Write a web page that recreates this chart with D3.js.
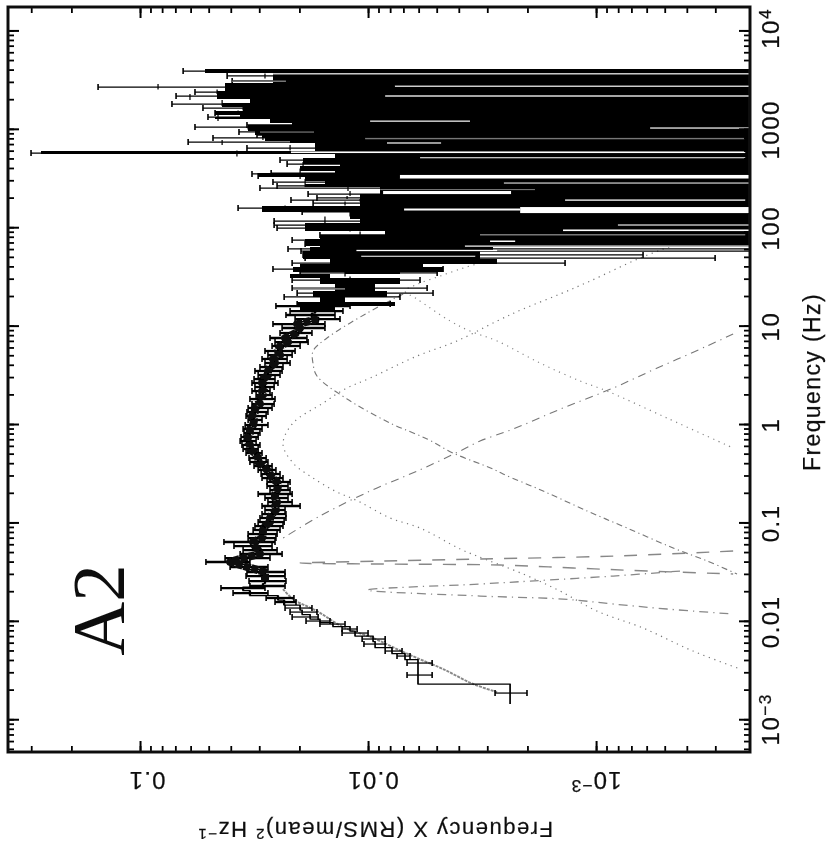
<!DOCTYPE html>
<html><head><meta charset="utf-8">
<script src="https://cdnjs.cloudflare.com/ajax/libs/d3/7.8.5/d3.min.js"></script>
<style>html,body{margin:0;padding:0;background:#fff}svg{display:block}text{fill:#111;stroke:#111;stroke-width:.25;font-family:"Liberation Sans",Arial,sans-serif}</style>
</head><body><div id="c"></div>
<script>
// All values are log10(frequency / Hz) and log10(power).
const logFreq=[3.587,3.537,3.486,3.425,3.374,3.333,3.252,3.211,3.161,3.120,
3.039,3.018,2.968,2.937,2.907,2.866,2.805,2.754,2.683,2.642,
2.551,2.541,2.520,2.459,2.419,2.398,2.337,2.297,2.276,2.246,
2.195,2.155,2.063,2.022,1.992,1.921,1.870,1.829,1.779,1.758,
1.718,1.687,1.636,1.575,1.535,1.463,1.382,1.331,1.291,1.220,
1.199,1.148,1.108,1.067,1.016,0.976,0.925,0.874,0.833,0.793,
0.742,0.701,0.661,0.620,0.579,0.539,0.498,0.457,0.417,0.376,
0.335,0.295,0.254,0.203,0.163,0.122,0.081,0.041,-0.010,-0.051,
-0.091,-0.132,-0.173,-0.213,-0.254,-0.295,-0.346,-0.386,-0.427,-0.467,
-0.508,-0.549,-0.589,-0.630,-0.671,-0.711,-0.752,-0.793,-0.833,-0.874,
-0.915,-0.955,-0.996,-1.037,-1.077,-1.118,-1.159,-1.199,-1.240,-1.281,
-1.321,-1.362,-1.402,-1.453,-1.504,-1.545,-1.596,-1.646,-1.667,-1.718,
-1.768,-1.809,-1.870,-1.911,-1.961,-2.002,-2.033,-2.083,-2.124,-2.185,
-2.236,-2.307,-2.358,-2.429,-2.551,-2.734];
const powerUpper=[-1.189,-1.382,-1.404,-0.816,-1.241,-1.158,-1.140,-1.276,-1.329,-1.298,
-1.469,-1.241,-1.434,-1.513,-1.320,-1.211,-1.469,-0.522,-1.614,-1.645,
-1.575,-1.491,-1.518,-1.583,-1.601,-1.526,-1.737,-1.776,-1.662,-1.759,
-1.430,-1.711,-1.588,-1.588,-1.601,-1.789,-1.667,-1.724,-1.649,-1.706,
-1.715,-1.724,-1.667,-1.583,-1.702,-1.667,-1.667,-1.689,-1.632,-1.689,
-1.596,-1.658,-1.640,-1.680,-1.583,-1.623,-1.614,-1.570,-1.592,-1.579,
-1.548,-1.561,-1.535,-1.548,-1.526,-1.504,-1.518,-1.500,-1.491,-1.504,
-1.491,-1.509,-1.482,-1.491,-1.474,-1.469,-1.465,-1.474,-1.461,-1.452,
-1.456,-1.443,-1.439,-1.447,-1.452,-1.465,-1.478,-1.482,-1.500,-1.518,
-1.531,-1.535,-1.557,-1.557,-1.570,-1.518,-1.548,-1.561,-1.535,-1.548,
-1.535,-1.526,-1.518,-1.504,-1.496,-1.474,-1.474,-1.368,-1.412,-1.452,
-1.439,-1.373,-1.289,-1.395,-1.469,-1.465,-1.478,-1.482,-1.355,-1.408,
-1.553,-1.592,-1.636,-1.658,-1.667,-1.728,-1.789,-1.886,-1.886,-1.974,
-1.982,-2.075,-2.127,-2.171,-2.171,-2.557];
const powerValue=[-1.746,-1.548,-1.671,-1.079,-1.338,-1.219,-1.360,-1.452,-1.430,-1.342,
-1.680,-1.474,-1.509,-1.570,-1.539,-1.360,-1.658,-1.425,-1.864,-1.715,
-1.702,-1.711,-1.702,-1.724,-1.724,-1.912,-1.921,-1.908,-1.965,-1.899,
-1.636,-1.921,-1.811,-1.921,-1.921,-1.965,-1.811,-1.921,-1.877,-1.921,
-1.877,-1.921,-1.899,-1.789,-1.899,-1.921,-1.899,-1.899,-1.833,-1.877,
-1.789,-1.768,-1.754,-1.781,-1.689,-1.702,-1.684,-1.636,-1.649,-1.614,
-1.605,-1.614,-1.583,-1.592,-1.570,-1.561,-1.561,-1.539,-1.535,-1.548,
-1.535,-1.539,-1.518,-1.526,-1.504,-1.504,-1.491,-1.500,-1.496,-1.482,
-1.482,-1.474,-1.469,-1.482,-1.482,-1.504,-1.518,-1.518,-1.539,-1.557,
-1.570,-1.579,-1.601,-1.605,-1.601,-1.592,-1.592,-1.601,-1.592,-1.596,
-1.579,-1.570,-1.570,-1.548,-1.539,-1.539,-1.535,-1.496,-1.504,-1.518,
-1.526,-1.452,-1.395,-1.469,-1.548,-1.548,-1.548,-1.539,-1.452,-1.482,
-1.605,-1.632,-1.702,-1.711,-1.746,-1.789,-1.846,-1.921,-1.943,-2.022,
-2.031,-2.105,-2.162,-2.219,-2.219,-2.623];
const powerLower=[-4,-4,-4,-4,-4,-4,-4,-4,-4,-4,
-4,-4,-4,-4,-4,-4,-4,-4,-4,-4,
-4,-4,-4,-4,-4,-4,-4,-4,-4,-4,
-4,-4,-4,-4,-4,-4,-4,-4,-4,-4,
-3.206,-3.522,-2.864,-2.329,-2.303,-2.228,-2.259,-2.285,-2.140,-2.097,
-1.921,-1.890,-1.855,-1.877,-1.811,-1.811,-1.754,-1.732,-1.737,-1.702,
-1.680,-1.667,-1.645,-1.658,-1.627,-1.623,-1.614,-1.592,-1.605,-1.588,
-1.570,-1.579,-1.592,-1.588,-1.579,-1.561,-1.553,-1.535,-1.561,-1.535,
-1.526,-1.518,-1.509,-1.526,-1.518,-1.535,-1.553,-1.561,-1.579,-1.596,
-1.614,-1.627,-1.658,-1.649,-1.658,-1.667,-1.649,-1.667,-1.702,-1.636,
-1.640,-1.640,-1.632,-1.627,-1.614,-1.601,-1.596,-1.592,-1.579,-1.601,
-1.623,-1.570,-1.482,-1.561,-1.636,-1.636,-1.640,-1.636,-1.548,-1.561,
-1.675,-1.684,-1.754,-1.776,-1.781,-1.833,-1.899,-1.952,-2.000,-2.075,
-2.075,-2.149,-2.184,-2.281,-2.281,-2.697];

// Where the noise-dominated error bars merge into a solid band.
const bandFreq=[3.608,3.567,3.466,3.384,3.303,3.262,3.222,3.181,3.140,3.120,3.100,3.059,3.039,2.978,2.937,2.907,2.876,2.856,2.775,2.744,2.703,2.642,2.622,2.571,2.551,2.510,2.470,2.439,2.409,2.337,2.216,2.155,2.083,2.043,1.961,1.921,1.880,1.809,1.799,1.758,1.677,1.626,1.596,1.545,1.525,1.484,1.423,1.352,1.291,1.240,1.199,1.148];
const bandUpper=[-1.285,-1.583,-1.373,-1.338,-1.482,-1.360,-1.452,-1.329,-1.439,-1.329,-1.570,-1.667,-1.474,-1.504,-1.535,-1.548,-1.658,-1.768,-0.566,-1.855,-1.715,-1.877,-1.702,-1.855,-1.518,-1.724,-1.811,-1.724,-2.053,-1.965,-1.535,-1.921,-1.965,-1.724,-2.075,-1.789,-1.724,-1.789,-1.746,-1.715,-1.833,-1.702,-1.671,-1.899,-1.658,-1.789,-1.855,-1.759,-1.789,-1.689,-1.702,-1.702];
const bandLower=[-4,-4,-4,-4,-4,-4,-4,-4,-4,-4,-4,-4,-4,-4,-4,-4,-4,-4,-4,-4,-4,-4,-4,-4,-4,-4,-4,-4,-4,-4,-4,-4,-4,-4,-4,-4,-4,-4,-2.548,-2.491,-2.566,-2.241,-2.329,-2.140,-1.833,-2.140,-2.031,-2.083,-1.899,-2.119,-1.855,-1.855];

// Thin stripes of paper and grey seen inside the band: [freq top, freq bottom, power left, power right]
const whiteF0=[3.565,3.439,3.340,3.084,3.014,2.862,2.770,2.711,2.531,2.454,2.368,2.282,2.205,2.190,2.028,1.977,1.865,1.814,1.770,1.710];
const whiteF1=[3.553,3.427,3.327,3.072,3.002,2.850,2.754,2.701,2.495,2.444,2.337,2.269,2.144,2.170,2.017,1.961,1.850,1.802,1.757,1.700];
const whiteP0=[-1.583,-2.118,-2.075,-2.009,-3.237,-2.083,-1.662,-2.228,-2.140,-2.596,-2.066,-2.864,-2.667,-2.158,-3.096,-2.855,-2.535,-2.425,-1.949,-1.970];
const whiteP1=[-4,-4,-4,-2.447,-4,-2.320,-3.654,-3.654,-4,-4,-2.627,-3.654,-4,-2.667,-4,-4,-2.645,-4,-2.566,-2.470];
const greyF0=[3.491,2.973,2.907,2.388,1.931,1.382];
const greyF1=[3.476,2.961,2.894,2.378,1.916,1.365];
const greyP0=[-1.404,-1.526,-1.987,-2.053,-2.491,-1.671];
const greyP1=[-1.640,-1.763,-3.654,-2.732,-3.654,-1.899];

// Model components
const lorA_F=[1.840,1.687,1.453,1.321,1.169,1.047,0.844,0.691,0.467,0.356,0.213,0.010,-0.203,-0.396,-0.549,-0.681,-0.783,-0.955,-1.057,-1.270,-1.342,-1.524,-1.697,-1.901,-2.073,-2.307,-2.490];
const lorA_P=[-3.368,-3.193,-2.974,-2.842,-2.680,-2.566,-2.390,-2.215,-2.009,-1.899,-1.803,-1.671,-1.627,-1.671,-1.759,-1.855,-1.956,-2.097,-2.228,-2.404,-2.478,-2.680,-2.842,-3.004,-3.206,-3.425,-3.632];
const lorB_F=[1.321,1.128,0.874,0.742,0.610,0.488,0.254,0.010,-0.152,-0.295,-0.457,-0.508,-0.681,-0.884,-1.057,-1.260,-1.392,-1.524];
const lorB_P=[-2.154,-1.996,-1.820,-1.759,-1.759,-1.776,-1.908,-2.097,-2.259,-2.373,-2.548,-2.592,-2.768,-2.961,-3.136,-3.338,-3.487,-3.618];
const lorC_F=[1.636,1.585,1.504,1.423,1.352,1.270,1.047,0.945,0.844,0.620,0.437,0.335,0.061,-0.244];
const lorC_P=[-2.491,-2.417,-2.316,-2.219,-2.162,-2.215,-2.360,-2.447,-2.566,-2.754,-2.930,-3.048,-3.311,-3.601];
const lorD_F=[0.915,0.793,0.569,0.366,0.163,-0.051,-0.173,-0.274,-0.478,-0.681,-0.935,-1.159];
const lorD_P=[-3.601,-3.487,-3.268,-3.075,-2.855,-2.636,-2.491,-2.404,-2.215,-2.009,-1.789,-1.627];
const qpoE_F=[-1.291,-1.342,-1.372,-1.392,-1.413,-1.423,-1.433,-1.463,-1.494,-1.524];
const qpoE_P=[-3.601,-3.075,-2.491,-2.066,-1.702,-2.066,-2.579,-2.899,-3.224,-3.601];
const qpoF_F=[-1.494,-1.545,-1.596,-1.626,-1.687,-1.748,-1.779,-1.829,-1.880,-1.931];
const qpoF_P=[-3.368,-3.075,-2.711,-2.491,-1.996,-2.491,-2.855,-3.075,-3.311,-3.601];
const total_F=[-2.724,-2.642,-2.490,-2.378,-2.287,-2.175,-2.063,-1.901,-1.779,-1.677];
const total_P=[-2.566,-2.461,-2.329,-2.215,-2.127,-2.022,-1.890,-1.776,-1.671,-1.627];

const freqMajor=[1e4,1e3,100,10,1,0.1,0.01,0.001];
const freqLabels=["10|4","1000","100","10","1","0.1","0.01","10|−3"];
const powerMajor=[0.1,0.01,0.001];
const powerLabels=["0.1","0.01","10|−3"];

const W=832,H=854,L=8,R=750,T=7,B=752;
const x=d3.scaleLog().domain([Math.pow(10,-0.421),Math.pow(10,-3.675)]).range([L,R]);
const y=d3.scaleLog().domain([Math.pow(10,4.238),Math.pow(10,-3.333)]).range([T,B]);
const px=v=>x(Math.pow(10,v)), py=v=>y(Math.pow(10,v));

const svg=d3.select("#c").append("svg").attr("width",W).attr("height",H);
const defs=svg.append("defs");
defs.append("clipPath").attr("id","clip").append("rect").attr("x",L).attr("y",T).attr("width",R-L).attr("height",B-T);
defs.append("filter").attr("id","soft").attr("x","-2%").attr("y","-2%").attr("width","104%").attr("height","104%")
  .append("feGaussianBlur").attr("stdDeviation",0.42);
const root=svg.append("g").attr("filter","url(#soft)");
const plot=root.append("g").attr("clip-path","url(#clip)");

// model curves
const line=d3.line().x(d=>px(d[1])).y(d=>py(d[0])).curve(d3.curveCatmullRom.alpha(0.5));
const curves=[
 [lorA_F,lorA_P,"1.2 4.6","#777",1.2],
 [lorB_F,lorB_P,"6 3.5 1.2 3.5","#777",1.1],
 [lorC_F,lorC_P,"1.2 4.6","#888",1.2],
 [lorD_F,lorD_P,"8 5 1.2 5","#777",1.1],
 [qpoE_F,qpoE_P,"13 11","#888",1.4],
 [qpoF_F,qpoF_P,"9 5 1.2 5","#888",1.3],
 [total_F,total_P,"3 1","#888",1.9]
];
plot.selectAll("path.model").data(curves).join("path").attr("class","model")
  .attr("d",c=>line(c[0].map((f,i)=>[f,c[1][i]])))
  .attr("fill","none").attr("stroke",c=>c[3]).attr("stroke-width",c=>c[4]).attr("stroke-dasharray",c=>c[2]);

// points
const points=logFreq.map((f,i)=>({f,u:powerUpper[i],v:powerValue[i],l:powerLower[i],
  top:i?(logFreq[i-1]+f)/2:f+0.02,
  bot:i<logFreq.length-1?(f+logFreq[i+1])/2:f-0.11}));
const inClump=d=>d.f<1.25&&d.f>-1.85;
const bars=plot.append("g").attr("stroke","#000").attr("fill","none");
const sw=d=>inClump(d)?2.3:1.25;
bars.selectAll("line.h").data(points).join("line").attr("stroke-width",sw).attr("x1",d=>px(d.u)).attr("x2",d=>px(d.l)).attr("y1",d=>py(d.f)).attr("y2",d=>py(d.f));
bars.selectAll("line.v").data(points).join("line").attr("stroke-width",sw).attr("x1",d=>px(d.v)).attr("x2",d=>px(d.v)).attr("y1",d=>py(d.top)).attr("y2",d=>py(d.bot));
bars.selectAll("line.cu").data(points).join("line").attr("stroke-width",1.6).attr("x1",d=>px(d.u)).attr("x2",d=>px(d.u)).attr("y1",d=>py(d.f)-3).attr("y2",d=>py(d.f)+3);
bars.selectAll("line.cl").data(points.filter(d=>d.l>-3.7)).join("line").attr("stroke-width",1.6).attr("x1",d=>px(d.l)).attr("x2",d=>px(d.l)).attr("y1",d=>py(d.f)-3).attr("y2",d=>py(d.f)+3);
// histogram step through the well-measured bins
const stepPts=[];points.filter(d=>d.f<1.25).forEach(d=>{stepPts.push([d.top,d.v]);stepPts.push([d.bot,d.v]);});
bars.append("path").attr("stroke-width",1.25).attr("d",d3.line().x(d=>px(d[1])).y(d=>py(d[0]))(stepPts));
// the overlapping bins of the dense stretch print as a dark, speckled core
const corePts=points.filter(inClump).map(d=>[d.f,d.v]);
bars.append("path").attr("stroke-width",8).attr("stroke-linejoin","round").attr("stroke-dasharray","7 1").attr("stroke","#0a0a0a")
  .attr("d",d3.line().x(d=>px(d[1])).y(d=>py(d[0]))(corePts.filter(d=>d[0]<1.1&&d[0]>-1.6)));

// merged band of bars
plot.append("g").selectAll("rect").data(bandFreq.slice(0,-1)).join("rect")
  .attr("shape-rendering","crispEdges").attr("fill","#050505")
  .attr("x",(d,i)=>px(bandUpper[i])).attr("y",d=>py(d))
  .attr("width",(d,i)=>Math.max(0,px(bandLower[i])-px(bandUpper[i])))
  .attr("height",(d,i)=>py(bandFreq[i+1])-py(d));
function stripes(f0,f1,p0,p1,fill){
  plot.append("g").selectAll("rect").data(f0).join("rect").attr("fill",fill)
   .attr("x",(d,i)=>px(p0[i])).attr("y",d=>py(d))
   .attr("width",(d,i)=>px(p1[i])-px(p0[i])).attr("height",(d,i)=>py(f1[i])-py(d));
}
stripes(greyF0,greyF1,greyP0,greyP1,"#777");
stripes(whiteF0,whiteF1,whiteP0,whiteP1,"#fff");

// axes: ticks point inward on all four sides
const ax=root.append("g");
function ticks(gen,tx,ty,vals,size){
  const g=ax.append("g").attr("transform",`translate(${tx},${ty})`)
    .call(gen.tickValues(vals).tickSize(size).tickFormat(""));
  g.select(".domain").remove();
  g.selectAll("line").attr("stroke","#000").attr("stroke-width",size>6?2:1.8);
}
ticks(d3.axisRight(y),L,0,y.ticks(),6); ticks(d3.axisRight(y),L,0,freqMajor,11);
ticks(d3.axisLeft(y),R,0,y.ticks(),6);  ticks(d3.axisLeft(y),R,0,freqMajor,11);
ticks(d3.axisBottom(x),0,T,x.ticks(),6);ticks(d3.axisBottom(x),0,T,powerMajor,11);
ticks(d3.axisTop(x),0,B,x.ticks(),6);   ticks(d3.axisTop(x),0,B,powerMajor,11);
ax.append("rect").attr("x",L).attr("y",T).attr("width",R-L).attr("height",B-T)
  .attr("fill","none").attr("stroke","#111").attr("stroke-width",3);

// labels
function label(t,sx,sy,rot,size,sp){
  const s=root.append("text").attr("transform",`translate(${sx},${sy}) rotate(${rot})`)
    .attr("text-anchor","middle").attr("font-size",size).attr("letter-spacing",sp||0);
  const parts=t.split("|");
  s.append("tspan").text(parts[0]);
  if(parts[1]) s.append("tspan").attr("dy",-8).attr("font-size",size*0.72).text(parts[1]);
  return s;
}
freqMajor.forEach((v,i)=>label(freqLabels[i],779,y(v)+(i==0?-2:i==7?0:1),-90,24,1.5));
powerMajor.forEach((v,i)=>label(powerLabels[i],[147,373,596][i],772,180,24,1.2));
label("Frequency (Hz)",820,382,-90,23,1.4);
const yl=root.append("text").attr("transform","translate(375,822) rotate(180)").attr("text-anchor","middle").attr("font-size",22).attr("letter-spacing",1.5);
yl.append("tspan").text("Frequency X (RMS/mean)");
yl.append("tspan").attr("dy",-7).attr("font-size",15).text("2");
yl.append("tspan").attr("dy",7).text(" Hz");
yl.append("tspan").attr("dy",-7).attr("font-size",15).text("−1");
root.append("text").attr("transform","translate(124,610) rotate(-90)").attr("text-anchor","middle")
  .style("font-family","'Liberation Serif',serif").style("stroke-width",0).attr("font-size",75).text("A2");
</script></body></html>
